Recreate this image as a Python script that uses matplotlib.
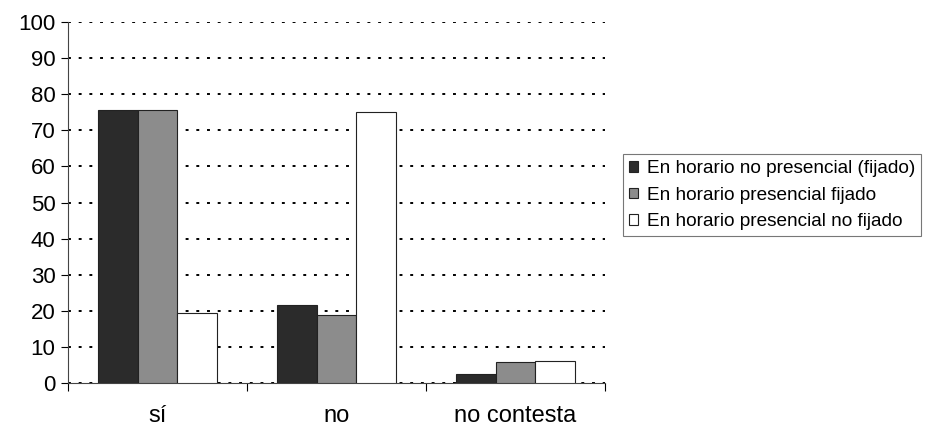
import matplotlib.pyplot as plt
import numpy as np

plt.rcParams['font.family'] = ['Liberation Sans', 'DejaVu Sans']

# datos
categorias = ["sí", "no", "no contesta"]
series = [
    "En horario no presencial (fijado)",
    "En horario presencial fijado",
    "En horario presencial no fijado",
]
no_presencial = [75.7, 21.7, 2.5]
presencial_fijado = [75.7, 18.8, 5.9]
presencial_no_fijado = [19.4, 75.0, 6.0]
valores = [no_presencial, presencial_fijado, presencial_no_fijado]
colores = ["#2b2b2b", "#8c8c8c", "#ffffff"]

# ==========================
# figura
# ==========================

fig = plt.figure(figsize=(9.27, 4.28), dpi=100)
ax = fig.add_axes([68 / 927, 0.105, 537 / 927, 0.8436])

x = np.arange(len(categorias))
w = 1 / 4.5

for i, (vals, col) in enumerate(zip(valores, colores)):
    ax.bar(
        x + (i - 1) * w,
        vals,
        width=w,
        color=col,
        edgecolor="#222222",
        linewidth=0.8,
        label=series[i],
        zorder=3,
    )

ax.set_xlim(-0.5, 2.5)
ax.set_ylim(0, 100)
ax.set_yticks(range(0, 101, 10))
ax.set_xticks(x)
ax.set_xticklabels(categorias)
ax.set_xticks([-0.5, 0.5, 1.5, 2.5], minor=True)

ax.tick_params(axis="y", labelsize=16, length=5, width=0.8, pad=4)
ax.tick_params(axis="x", which="major", length=0, labelsize=17, pad=16)
ax.tick_params(axis="x", which="minor", length=6, width=0.8, direction="out")

ax.yaxis.grid(True, linestyle=(0, (1.5, 4)), color="black", linewidth=1.4, zorder=1)
for spine in ["top", "right"]:
    ax.spines[spine].set_visible(False)
ax.spines["left"].set_color("#444444")
ax.spines["bottom"].set_color("#444444")

leg = fig.legend(
    loc="center left",
    bbox_to_anchor=(623 / 927, 0.544),
    fontsize=13.7,
    frameon=True,
    fancybox=False,
    handlelength=0.47,
    handleheight=0.47,
    handletextpad=0.47,
    borderpad=0.3,
    labelspacing=0.5,
    borderaxespad=0,
)
leg.get_frame().set_edgecolor("#555555")
leg.get_frame().set_linewidth(0.8)

plt.savefig("out.png", dpi=100)
